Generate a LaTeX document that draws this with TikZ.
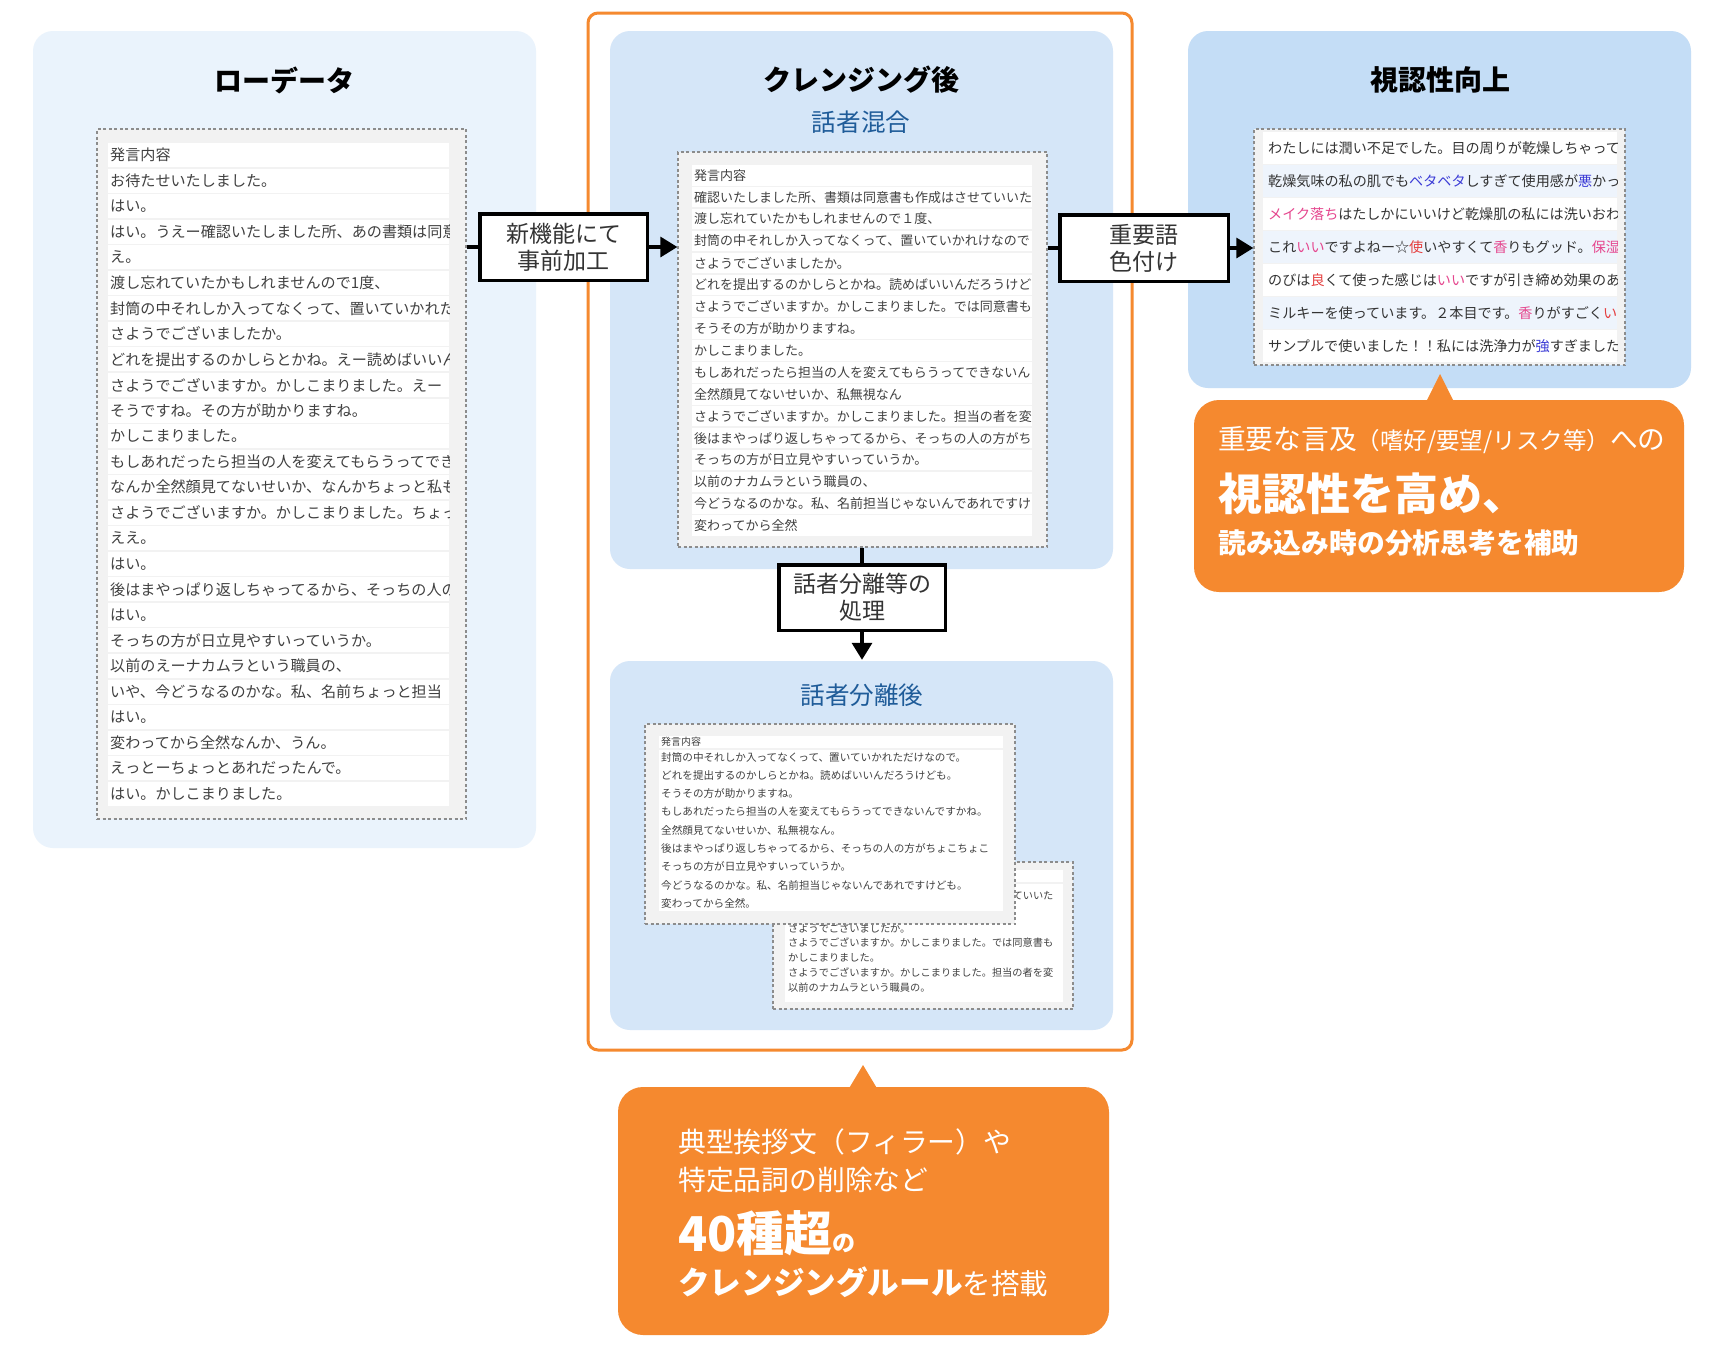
\documentclass[tikz,border=0pt]{standalone}
\usepackage{fontspec}
\setmainfont{Noto Sans CJK JP}
\usetikzlibrary{arrows.meta}
\definecolor{bgA}{HTML}{EAF3FC}
\definecolor{bgB}{HTML}{D5E6F8}
\definecolor{bgC}{HTML}{C4DDF6}
\definecolor{orng}{HTML}{F5892F}
\definecolor{subblue}{HTML}{1F5C99}
\definecolor{cardfill}{HTML}{F2F2F2}
\definecolor{cardline}{HTML}{8C8C8C}
\definecolor{txt}{HTML}{404040}
\definecolor{darktxt}{HTML}{333333}
\definecolor{rowalt}{HTML}{EEF4FC}
\definecolor{hlblue}{HTML}{3B3BD6}
\definecolor{hlpink}{HTML}{E5468E}
\definecolor{hlred}{HTML}{E53E3E}
\newcommand\hlB[1]{\textcolor{hlblue}{#1}}
\newcommand\hlP[1]{\textcolor{hlpink}{#1}}
\newcommand\hlR[1]{\textcolor{hlred}{#1}}
\begin{document}
\begin{tikzpicture}[x=1pt,y=-1pt,
  panel/.style={fill=#1, rounded corners=20pt, inner sep=0},
  card/.style={draw=cardline, dash pattern=on 3pt off 2.5pt, line width=1.3pt, fill=cardfill, inner sep=0},
  rowtxt/.style={anchor=west, inner sep=0, text=txt},
  ttl/.style={font=\bfseries\fontsize{28}{32}\selectfont, inner sep=0},
  subttl/.style={font=\fontsize{24.6}{28}\selectfont, text=subblue, inner sep=0},
  procbox/.style={draw=black, line width=3.5pt, fill=white, align=center, text=darktxt, font=\fontsize{23}{27}\selectfont, inner sep=0},
  conn/.style={line width=3.3pt, draw=black},
  arr/.style={conn, -{Triangle[length=17pt,width=20pt]}},
  callout/.style={fill=orng, rounded corners=25pt, inner sep=0},
  ctext/.style={anchor=west, inner sep=0, text=white},
]
\useasboundingbox (0,0) rectangle (1713,1350);
\fill[white] (0,0) rectangle (1713,1350);

% orange frame and panels
\node[draw=orng, line width=3pt, rounded corners=10pt, fill=white, minimum width=544pt, minimum height=1037pt, inner sep=0] (frame) at (860,531.5) {};
\node[panel=bgA, minimum width=503pt, minimum height=817pt] (rawpanel) at (284.5,439.5) {};
\node[panel=bgB, minimum width=503pt, minimum height=538pt] (uppanel) at (861.5,300) {};
\node[panel=bgB, minimum width=503pt, minimum height=369pt] (lowpanel) at (861.5,845.5) {};
\node[panel=bgC, minimum width=503pt, minimum height=357pt] (rpanel) at (1439.5,209.5) {};

% titles
\node[ttl] (t1) at (284,80) {ローデータ};
\node[ttl] (t2) at (861,80) {クレンジング後};
\node[subttl] (s1) at (861,122) {話者混合};
\node[ttl] (t3) at (1440,80) {視認性向上};
\node[subttl] (s2) at (862,695) {話者分離後};

% raw card
\node[card, minimum width=369pt, minimum height=690pt] (rawcard) at (281.5,474) {};
\begin{scope}
\clip (108,140) rectangle (449,812);
\foreach \t [count=\i] in {発言内容,
 お待たせいたしました。,
 はい。,
 はい。うえー確認いたしました所、あの書類は同意,
 え。,
 渡し忘れていたかもしれませんので1度、,
 封筒の中それしか入ってなくって、置いていかれた,
 さようでございましたか。,
 どれを提出するのかしらとかね。えー読めばいいん,
 さようでございますか。かしこまりました。えー,
 そうですね。その方が助かりますね。,
 かしこまりました。,
 もしあれだったら担当の人を変えてもらうってでき,
 なんか全然顔見てないせいか、なんかちょっと私も,
 さようでございますか。かしこまりました。ちょっ,
 ええ。,
 はい。,
 後はまやっぱり返しちゃってるから、そっちの人の,
 はい。,
 そっちの方が日立見やすいっていうか。,
 以前のえーナカムラという職員の、,
 いや、今どうなるのかな。私、名前ちょっと担当,
 はい。,
 変わってから全然なんか、うん。,
 えっとーちょっとあれだったんで。,
 はい。かしこまりました。} {
  \pgfmathsetmacro\yt{143+(\i-1)*25.55}
  \fill[white] (108,\yt) rectangle (449,\yt+24);
  \node[rowtxt, font=\fontsize{15.1}{18}\selectfont] (raw\i) at (110,\yt+12) {\t};
}
\end{scope}

% mixed card
\node[card, minimum width=369pt, minimum height=395pt] (mixcard) at (862.5,349.5) {};
\begin{scope}
\clip (692,160) rectangle (1032,540);
\foreach \t [count=\i] in {発言内容,
 確認いたしました所、書類は同意書も作成はさせていいた,
 渡し忘れていたかもしれませんので１度、,
 封筒の中それしか入ってなくって、置いていかれけなので,
 さようでございましたか。,
 どれを提出するのかしらとかね。読めばいいんだろうけど,
 さようでございますか。かしこまりました。では同意書も,
 そうその方が助かりますね。,
 かしこまりました。,
 もしあれだったら担当の人を変えてもらうってできないん,
 全然顔見てないせいか、私無視なん,
 さようでございますか。かしこまりました。担当の者を変,
 後はまやっぱり返しちゃってるから、そっちの人の方がち,
 そっちの方が日立見やすいっていうか。,
 以前のナカムラという職員の、,
 今どうなるのかな。私、名前担当じゃないんであれですけ,
 変わってから全然} {
  \pgfmathsetmacro\yt{165+(\i-1)*21.9}
  \fill[white] (692,\yt) rectangle (1032,\yt+20.5);
  \node[rowtxt, font=\fontsize{13}{16}\selectfont] (mix\i) at (694,\yt+10.25) {\t};
}
\end{scope}

% back card (separated, second speaker)
\node[card, minimum width=300pt, minimum height=147pt] (backcard) at (923,935.5) {};
\fill[white] (785,870) rectangle (1063,882);
\fill[white] (785,884) rectangle (1063,1002);
\begin{scope}
\clip (785,884) rectangle (1063,1002);
\foreach \t/\yy [count=\i] in {確認いたしました所、書類は同意書も作成はさせていいた/896,
 さようでございましたか。/928,
 さようでございますか。かしこまりました。では同意書も/943,
 かしこまりました。/958,
 さようでございますか。かしこまりました。担当の者を変/973,
 以前のナカムラという職員の。/988} {
  \node[rowtxt, font=\fontsize{10.2}{12}\selectfont] (bk\i) at (788,\yy) {\t};
}
\end{scope}

% front card (separated, first speaker)
\node[card, minimum width=370pt, minimum height=200pt] (frontcard) at (830,824) {};
\fill[white] (659,736) rectangle (1003,748);
\fill[white] (659,750) rectangle (1003,911);
\begin{scope}
\clip (659,732) rectangle (1003,914);
\node[rowtxt, font=\fontsize{10}{12}\selectfont] (fr0) at (661,742) {発言内容};
\foreach \t [count=\i] in {封筒の中それしか入ってなくって、置いていかれただけなので。,
 どれを提出するのかしらとかね。読めばいいんだろうけども。,
 そうその方が助かりますね。,
 もしあれだったら担当の人を変えてもらうってできないんですかね。,
 全然顔見てないせいか、私無視なん。,
 後はまやっぱり返しちゃってるから、そっちの人の方がちょこちょこ,
 そっちの方が日立見やすいっていうか。,
 今どうなるのかな。私、名前担当じゃないんであれですけども。,
 変わってから全然。} {
  \pgfmathsetmacro\yy{757+(\i-1)*18.3}
  \node[rowtxt, font=\fontsize{10.6}{12}\selectfont] (fr\i) at (661,\yy) {\t};
}
\end{scope}

% right card
\node[card, minimum width=371pt, minimum height=236pt] (rcard) at (1439.5,247) {};
\begin{scope}
\clip (1263,130) rectangle (1617,363);
\foreach \t [count=\i] in {{わたしには潤い不足でした。目の周りが乾燥しちゃって},
 {乾燥気味の私の肌でも\hlB{ベタベタ}しすぎて使用感が\hlB{悪}かった},
 {\hlP{メイク落ち}はたしかにいいけど乾燥肌の私には洗いおわ},
 {これ\hlP{いい}ですよねー☆\hlR{使}いやすくて\hlP{香}りもグッド。\hlP{保湿}},
 {のびは\hlR{良}くて使った感じは\hlP{いい}ですが引き締め効果のあ},
 {ミルキーを使っています。２本目です。\hlP{香}りがすごく\hlR{い}},
 {サンプルで使いました！！私には洗浄力が\hlB{強}すぎました}} {
  \pgfmathsetmacro\yt{132+(\i-1)*33}
  \pgfmathtruncatemacro\m{mod(\i,2)}
  \ifnum\m=0 \def\rc{rowalt}\else\def\rc{white}\fi
  \fill[\rc] (1263,\yt) rectangle (1617,\yt+31.5);
  \node[rowtxt, text=darktxt, font=\fontsize{14.1}{16}\selectfont] (hl\i) at (1268,\yt+16) {\t};
}
\end{scope}

% process boxes and connectors
\node[procbox, minimum width=167.5pt, minimum height=66.5pt] (p1) at (563.5,247) {新機能にて\\事前加工};
\node[procbox, minimum width=168.5pt, minimum height=66.5pt] (p2) at (1144,248) {重要語\\色付け};
\node[procbox, minimum width=166.5pt, minimum height=65.5pt] (p3) at (862,597.5) {話者分離等の\\処理};
\draw[conn] (rawcard.east |- p1.west) -- (p1.west);
\draw[arr] (p1.east) -- (mixcard.west |- p1.east);
\draw[conn] (mixcard.east |- p2.west) -- (p2.west);
\draw[arr] (p2.east) -- (rcard.west |- p2.east);
\draw[conn] (mixcard.south -| p3.north) -- (p3.north);
\draw[arr] (p3.south) -- ([yshift=1pt]lowpanel.north -| p3.south);

% right callout
\node[callout, minimum width=490pt, minimum height=192pt] (co1) at (1439,496) {};
\fill[orng] (1425,404) -- (1440,374) -- (1455,404) -- cycle;
\node[ctext] (co1a) at (1218,440) {\fontsize{27.7}{30}\selectfont 重要な言及{\fontsize{23.5}{30}\selectfont （嗜好/要望/リスク等）}への};
\node[ctext, font=\bfseries\fontsize{44}{48}\selectfont] (co1b) at (1218,494) {視認性を高め、};
\node[ctext, font=\bfseries\fontsize{27.8}{30}\selectfont] (co1c) at (1218,543) {読み込み時の分析思考を補助};

% bottom callout
\node[callout, minimum width=491pt, minimum height=248pt] (co2) at (863.5,1211) {};
\fill[orng] (848,1090) -- (863,1065) -- (878,1090) -- cycle;
\node[ctext, font=\fontsize{27.8}{30}\selectfont] (co2a) at (678,1142) {典型挨拶文（フィラー）や};
\node[ctext, font=\fontsize{27.8}{30}\selectfont] (co2b) at (678,1180) {特定品詞の削除など};
\node[ctext, anchor=base west] (co2c) at (678,1251) {\bfseries\fontsize{48}{52}\selectfont 40種超{\fontsize{23}{26}\selectfont の}};
\node[ctext, anchor=base west] (co2d) at (678,1294) {{\bfseries\fontsize{31.6}{34}\selectfont クレンジングルール}{\fontsize{28.5}{30}\selectfont を搭載}};
\end{tikzpicture}
\end{document}
